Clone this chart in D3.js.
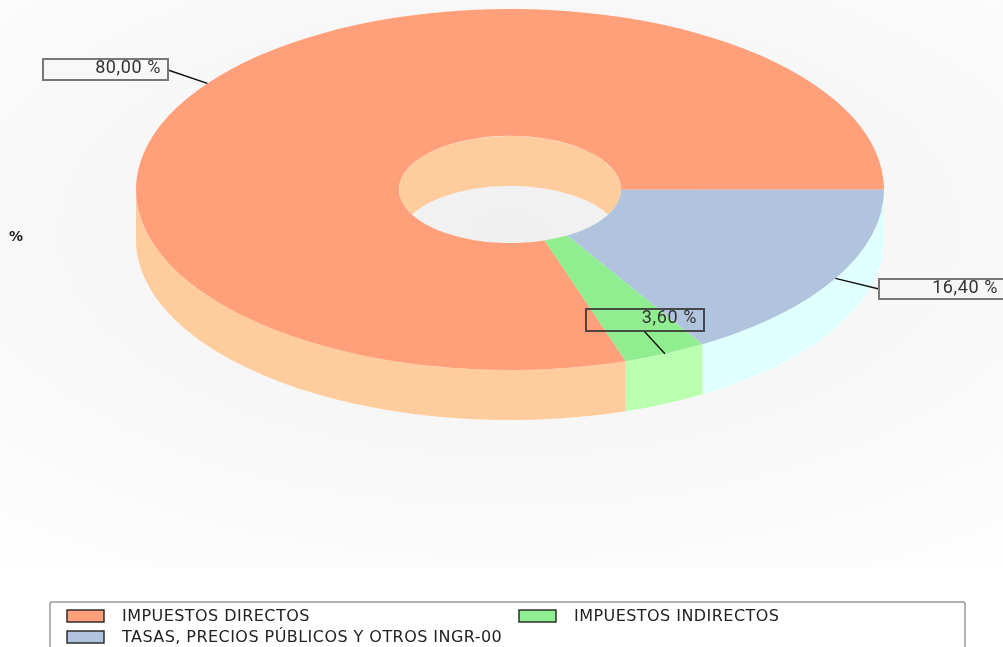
<!DOCTYPE html>
<html>
<head>
<meta charset="utf-8">
<script src="https://cdn.jsdelivr.net/npm/d3@7"></script>
<style>
    html, body { margin: 0; padding: 0; background: #fff; overflow: hidden; }
    svg { display: block; }
    .blur { filter: blur(0.5px); }
    .value-label { font-family: Roboto, sans-serif; font-size: 18px; letter-spacing: 0.6px; fill: #333; text-anchor: end; }
    .legend-label { font-family: "DejaVu Sans", sans-serif; font-size: 16px; letter-spacing: 0.45px; fill: #222; }
    .unit-label { font-family: "DejaVu Sans", sans-serif; font-size: 14px; font-weight: bold; fill: #222; }
</style>
</head>
<body>
<div id="chart"></div>
<script>
const categories = ['TASAS, PRECIOS PÚBLICOS Y OTROS INGR-00', 'IMPUESTOS INDIRECTOS', 'IMPUESTOS DIRECTOS'];
const values = [16.4, 3.6, 80.0];
const valueLabels = ['16,40 %', '3,60 %', '80,00 %'];
const topColors = ['#b0c4de', '#90ee90', '#ffa07a'];
const wallColors = ['#e0ffff', '#bbffb0', '#ffcc9e'];
const legendOrder = [2, 1, 0];

const width = 1003, height = 647;
const cx = 510, cy = 189.5, rx = 374, ry = 180.5, depth = 50;
const holeRatio = 111 / 374;

const svg = d3.select('#chart').append('svg')
    .attr('width', width)
    .attr('height', height);

const defs = svg.append('defs');

// background glow is a wide ellipse centred behind the hole
const bg = defs.append('radialGradient')
    .attr('id', 'bg')
    .attr('gradientUnits', 'userSpaceOnUse')
    .attr('cx', 0).attr('cy', 0).attr('r', 440)
    .attr('gradientTransform', `translate(${cx},230) scale(2,1)`);
bg.append('stop').attr('offset', 0).attr('stop-color', '#f0f0f0');
bg.append('stop').attr('offset', 1).attr('stop-color', '#ffffff');

defs.append('clipPath').attr('id', 'hole')
    .append('ellipse')
    .attr('cx', cx).attr('cy', cy)
    .attr('rx', rx * holeRatio).attr('ry', ry * holeRatio);

svg.append('rect')
    .attr('width', width).attr('height', 568)
    .attr('fill', 'url(#bg)');

const chart = svg.append('g').attr('class', 'blur');

// pie starts at 3 o'clock and runs clockwise
const pie = d3.pie().sort(null).startAngle(Math.PI / 2).endAngle(Math.PI * 2.5);
const slices = pie(values);

const px = a => cx + rx * Math.sin(a);
const py = a => cy - ry * Math.cos(a);

// outer wall, only the part of each slice facing the viewer
const wallLine = d3.line().x(d => d[0]).y(d => d[1]);
const wallPath = d => {
    const start = Math.max(d.startAngle, Math.PI / 2);
    const end = Math.min(d.endAngle, Math.PI * 1.5);
    const angles = d3.range(start, end, 0.01).concat([end]);
    const upper = angles.map(a => [px(a), py(a)]);
    const lower = angles.slice().reverse().map(a => [px(a), py(a) + depth]);
    return wallLine(upper.concat(lower)) + 'Z';
};

chart.selectAll('.wall')
    .data(slices)
    .join('path')
    .attr('class', 'wall')
    .attr('d', wallPath)
    .attr('fill', (d, i) => wallColors[i]);

// inside of the hole: wall at the back, floor seen through it
const hole = chart.append('g').attr('clip-path', 'url(#hole)');
hole.append('ellipse')
    .attr('cx', cx).attr('cy', cy)
    .attr('rx', rx * holeRatio).attr('ry', ry * holeRatio)
    .attr('fill', wallColors[2]);
hole.append('ellipse')
    .attr('cx', cx).attr('cy', cy + depth)
    .attr('rx', rx * holeRatio).attr('ry', ry * holeRatio)
    .attr('fill', 'url(#bg)');

const arc = d3.arc().innerRadius(holeRatio).outerRadius(1);

chart.append('g')
    .attr('transform', `translate(${cx},${cy}) scale(${rx},${ry})`)
    .selectAll('.slice')
    .data(slices)
    .join('path')
    .attr('class', 'slice')
    .attr('d', arc)
    .attr('fill', (d, i) => topColors[i]);

// value labels
const boxes = [
    {x: 879, y: 279, w: 130, h: 20, ax: 879, ay: 289, stroke: '#777', fill: '#f6f6f6', opacity: 1},
    {x: 586, y: 309, w: 118, h: 22, ax: 644, ay: 331, stroke: '#333', fill: 'none', opacity: 0.85},
    {x: 43, y: 59, w: 125, h: 21, ax: 168, ay: 70, stroke: '#777', fill: '#f8f8f8', opacity: 1}
];
const textRight = [998, 697, 161];

const labels = chart.selectAll('.label')
    .data(slices)
    .join('g')
    .attr('class', 'label');

labels.append('line')
    .attr('x1', d => px((d.startAngle + d.endAngle) / 2))
    .attr('y1', d => py((d.startAngle + d.endAngle) / 2))
    .attr('x2', (d, i) => boxes[i].ax)
    .attr('y2', (d, i) => boxes[i].ay)
    .attr('stroke', '#111')
    .attr('stroke-width', 1.4);

labels.append('rect')
    .attr('x', (d, i) => boxes[i].x)
    .attr('y', (d, i) => boxes[i].y)
    .attr('width', (d, i) => boxes[i].w)
    .attr('height', (d, i) => boxes[i].h)
    .attr('fill', (d, i) => boxes[i].fill)
    .attr('stroke', (d, i) => boxes[i].stroke)
    .attr('stroke-opacity', (d, i) => boxes[i].opacity)
    .attr('stroke-width', 2);

labels.append('text')
    .attr('class', 'value-label')
    .attr('x', (d, i) => textRight[i])
    .attr('y', (d, i) => boxes[i].y + 14)
    .text((d, i) => valueLabels[i]);

chart.append('text')
    .attr('class', 'unit-label')
    .attr('x', 9)
    .attr('y', 241)
    .text('%');

// legend
const legend = svg.append('g').attr('class', 'blur');

legend.append('rect')
    .attr('x', 50).attr('y', 602)
    .attr('width', 915).attr('height', 60)
    .attr('rx', 2)
    .attr('fill', '#fff')
    .attr('stroke', '#999')
    .attr('stroke-width', 1.5);

const legendX = d3.scalePoint().domain([0, 1]).range([67, 519]);
const legendY = d3.scalePoint().domain([0, 1]).range([610, 631]);

const items = legend.selectAll('.item')
    .data(legendOrder)
    .join('g')
    .attr('class', 'item')
    .attr('transform', (d, i) => `translate(${legendX(i % 2)},${legendY(Math.floor(i / 2))})`);

items.append('rect')
    .attr('width', 37).attr('height', 12)
    .attr('fill', d => topColors[d])
    .attr('stroke', '#222')
    .attr('stroke-width', 1.4);

items.append('text')
    .attr('class', 'legend-label')
    .attr('x', 55)
    .attr('y', 11)
    .text(d => categories[d]);
</script>
</body>
</html>
